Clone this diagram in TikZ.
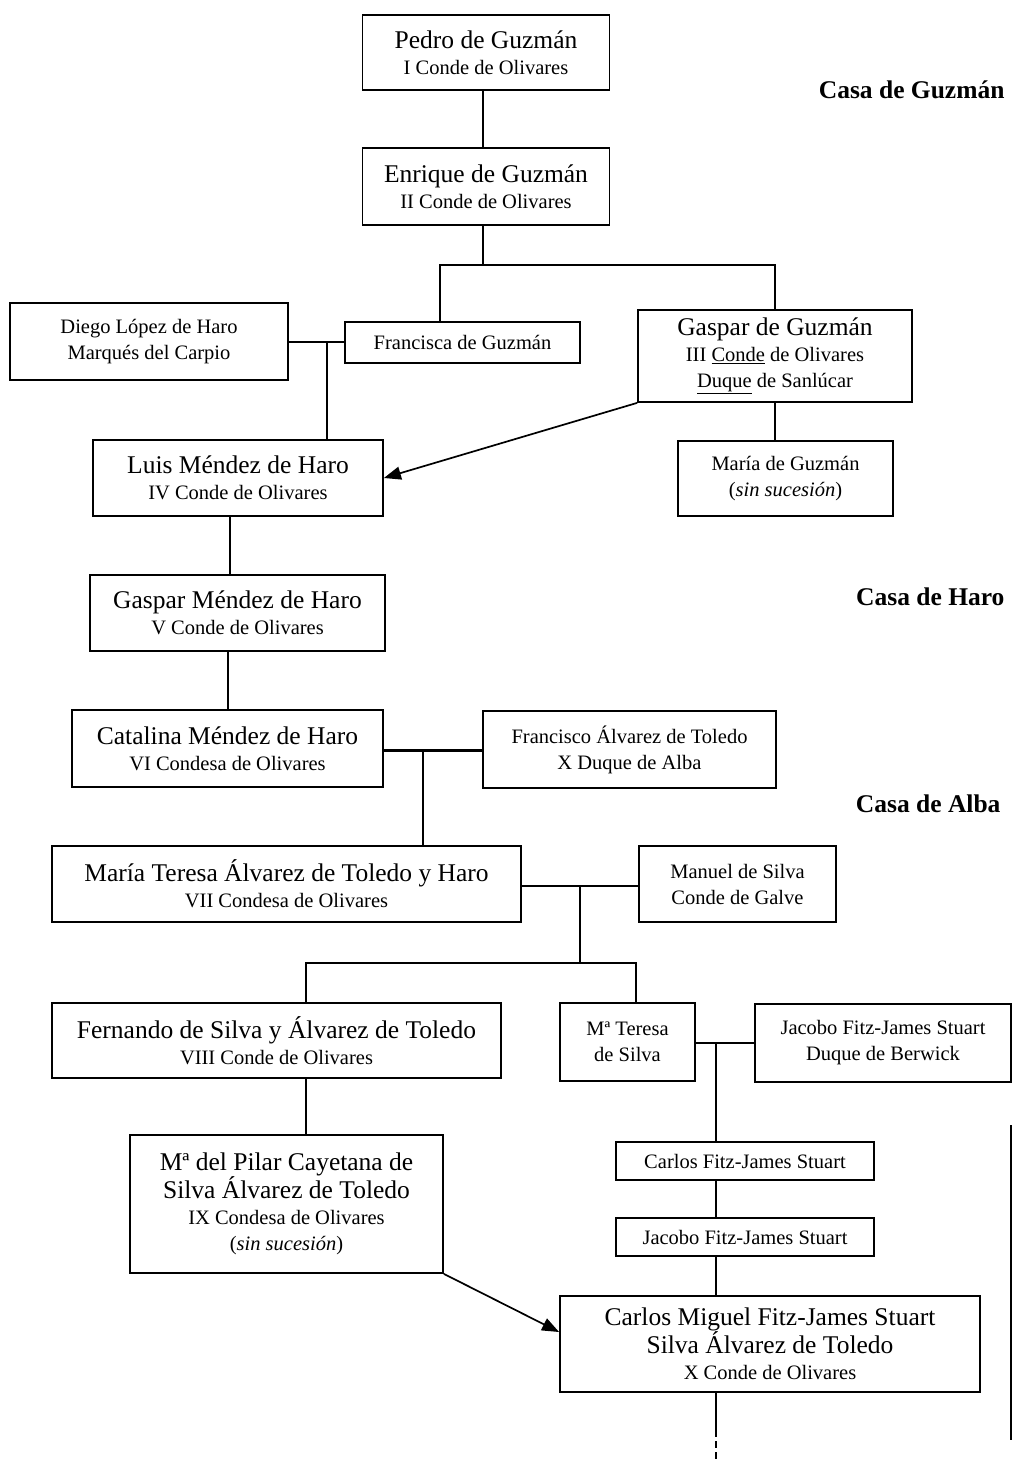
\documentclass[tikz,border=0pt]{standalone}
\usepackage{fontspec}
\setmainfont{Liberation Serif}
\usepackage{tikz}
\usetikzlibrary{arrows.meta}
\usetikzlibrary{positioning}

\newcommand{\nombre}[1]{{\fontsize{25.5}{26}\selectfont #1}}

\begin{document}
\begin{tikzpicture}[x=1pt, y=-1pt,
        person/.style={draw, line width=1.8pt, align=center, inner sep=0pt,
                       font=\fontsize{20.5}{26}\selectfont},
        link/.style={line width=1.7pt},
        heir/.style={line width=1.7pt, -{Triangle[length=17pt, width=13pt]}},
        house/.style={font=\fontsize{25.5}{26}\selectfont\bfseries, anchor=east}]

        	\useasboundingbox (0,0) rectangle (1015,1465);

        	% Casa de Guzman
        	\node[person, minimum width=247pt, minimum height=75pt] (pedro) at (486,52.5)
        		{\nombre{Pedro de Guzmán}\\ I Conde de Olivares};
        	\node[person, minimum width=247pt, minimum height=77pt] (enrique) at (486,186.5)
        		{\nombre{Enrique de Guzmán}\\ II Conde de Olivares};
        	\node[person, minimum width=278pt, minimum height=77pt] (diego) at (149,341.5)
        		{Diego López de Haro\\ Marqués del Carpio};
        	\node[person, minimum width=235pt, minimum height=41pt] (francisca) at (462.5,342.5)
        		{Francisca de Guzmán};
        	\node[person, minimum width=274pt, minimum height=92pt] (gaspar) at (775,356)
        		{\nombre{Gaspar de Guzmán}\\ III \underline{Conde} de Olivares\\ \underline{Duque} de Sanlúcar};
        	\node[person, minimum width=290pt, minimum height=76pt] (luis) at (238,478)
        		{\nombre{Luis Méndez de Haro}\\ IV Conde de Olivares};
        	\node[person, minimum width=215pt, minimum height=75pt] (maria) at (785.5,478.5)
        		{María de Guzmán\\ (\textit{sin sucesión})};

        	% Casa de Haro
        	\node[person, minimum width=295pt, minimum height=76pt] (gasparm) at (237.5,613)
        		{\nombre{Gaspar Méndez de Haro}\\ V Conde de Olivares};
        	\node[person, minimum width=311pt, minimum height=77pt] (catalina) at (227.5,748.5)
        		{\nombre{Catalina Méndez de Haro}\\ VI Condesa de Olivares};
        	\node[person, minimum width=293pt, minimum height=77pt] (francisco) at (629.5,749.5)
        		{Francisco Álvarez de Toledo\\ X Duque de Alba};

        	% Casa de Alba
        	\node[person, minimum width=469pt, minimum height=76pt] (mteresa) at (286.5,884)
        		{\nombre{María Teresa Álvarez de Toledo y Haro}\\ VII Condesa de Olivares};
        	\node[person, minimum width=197pt, minimum height=76pt] (manuel) at (737.5,884)
        		{Manuel de Silva\\ Conde de Galve};
        	\node[person, minimum width=449pt, minimum height=75pt] (fernando) at (276.5,1040.5)
        		{\nombre{Fernando de Silva y Álvarez de Toledo}\\ VIII Conde de Olivares};
        	\node[person, minimum width=135pt, minimum height=78pt] (teresa) at (627.5,1042)
        		{Mª Teresa\\ de Silva};
        	\node[person, minimum width=256pt, minimum height=78pt] (berwick) at (883,1043)
        		{Jacobo Fitz-James Stuart\\ Duque de Berwick};
        	\node[person, minimum width=258pt, minimum height=38pt] (carlos) at (745,1161)
        		{Carlos Fitz-James Stuart};
        	\node[person, minimum width=258pt, minimum height=38pt] (jacobo) at (745,1237)
        		{Jacobo Fitz-James Stuart};
        	\node[person, minimum width=313pt, minimum height=138pt] (pilar) at (286.5,1204)
        		{\nombre{Mª del Pilar Cayetana de}\\ \nombre{Silva Álvarez de Toledo}\\ IX Condesa de Olivares\\ (\textit{sin sucesión})};
        	\node[person, minimum width=420pt, minimum height=96pt] (carlosm) at (770,1344)
        		{\nombre{Carlos Miguel Fitz-James Stuart}\\ \nombre{Silva Álvarez de Toledo}\\ X Conde de Olivares};

        	\node[house] (hguzman) at (1008,90) {Casa de Guzmán};
        	\node[house] (hharo) at (1008,597) {Casa de Haro};
        	\node[house] (halba) at (1004,804) {Casa de Alba};

        	% junctions
        	\coordinate (j1) at (483,265);
        	\coordinate (j2) at (327,342);
        	\coordinate (j3) at (423,750);
        	\coordinate (j4) at (580,886);
        	\coordinate (j5) at (580,963);
        	\coordinate (j6) at (716,1043);
        	\coordinate (cont0) at (716,1430);
        	\coordinate (cont) at (716,1462);
        	\coordinate (b1) at (1011,1125);
        	\coordinate (b2) at (1011,1440);

        	\draw[link] (pedro.south -| j1) -- (enrique.north -| j1);
        	\draw[link] (enrique.south -| j1) -- (j1);
        	\draw[link] ([xshift=-22.5pt]francisca.north) |- (j1) -| (gaspar.north);
        	\draw[link] (diego.east |- j2) -- (francisca.west |- j2);
        	\draw[link] (j2) -- (luis.north -| j2);
        	\draw[link] (gaspar.south) -- (gaspar.south |- maria.north);
        	\draw[heir] (gaspar.south west) -- (luis.east);

        	\draw[link] ([xshift=-8pt]luis.south) -- ([xshift=-8pt]luis.south |- gasparm.north);
        	\draw[link] ([xshift=-9.5pt]gasparm.south) -- ([xshift=-9.5pt]gasparm.south |- catalina.north);
        	\draw[line width=3pt] (catalina.east |- j3) -- (francisco.west |- j3);
        	\draw[link] (j3) -- (mteresa.north -| j3);

        	\draw[link] (mteresa.east |- j4) -- (manuel.west |- j4);
        	\draw[link] (j4) -- (j5);
        	\draw[link] ([xshift=29.5pt]fernando.north) |- (j5) -| ([xshift=8.5pt]teresa.north);
        	\draw[link] (teresa.east |- j6) -- (berwick.west |- j6);
        	\draw[link] (j6) -- (carlos.north -| j6);
        	\draw[link] (carlos.south -| j6) -- (jacobo.north -| j6);
        	\draw[link] (jacobo.south -| j6) -- (carlosm.north -| j6);
        	\draw[link] ([xshift=29.5pt]fernando.south) -- ([xshift=19.5pt]pilar.north);
        	\draw[heir] (pilar.south east) -- ([yshift=12pt]carlosm.west);
        	\draw[link] (carlosm.south -| j6) -- (cont0);
        	\draw[link, dashed, dash pattern=on 7pt off 4pt] (cont0) -- (cont);

        	\draw[line width=1.4pt] (b1) -- (b2);

\end{tikzpicture}
\end{document}
